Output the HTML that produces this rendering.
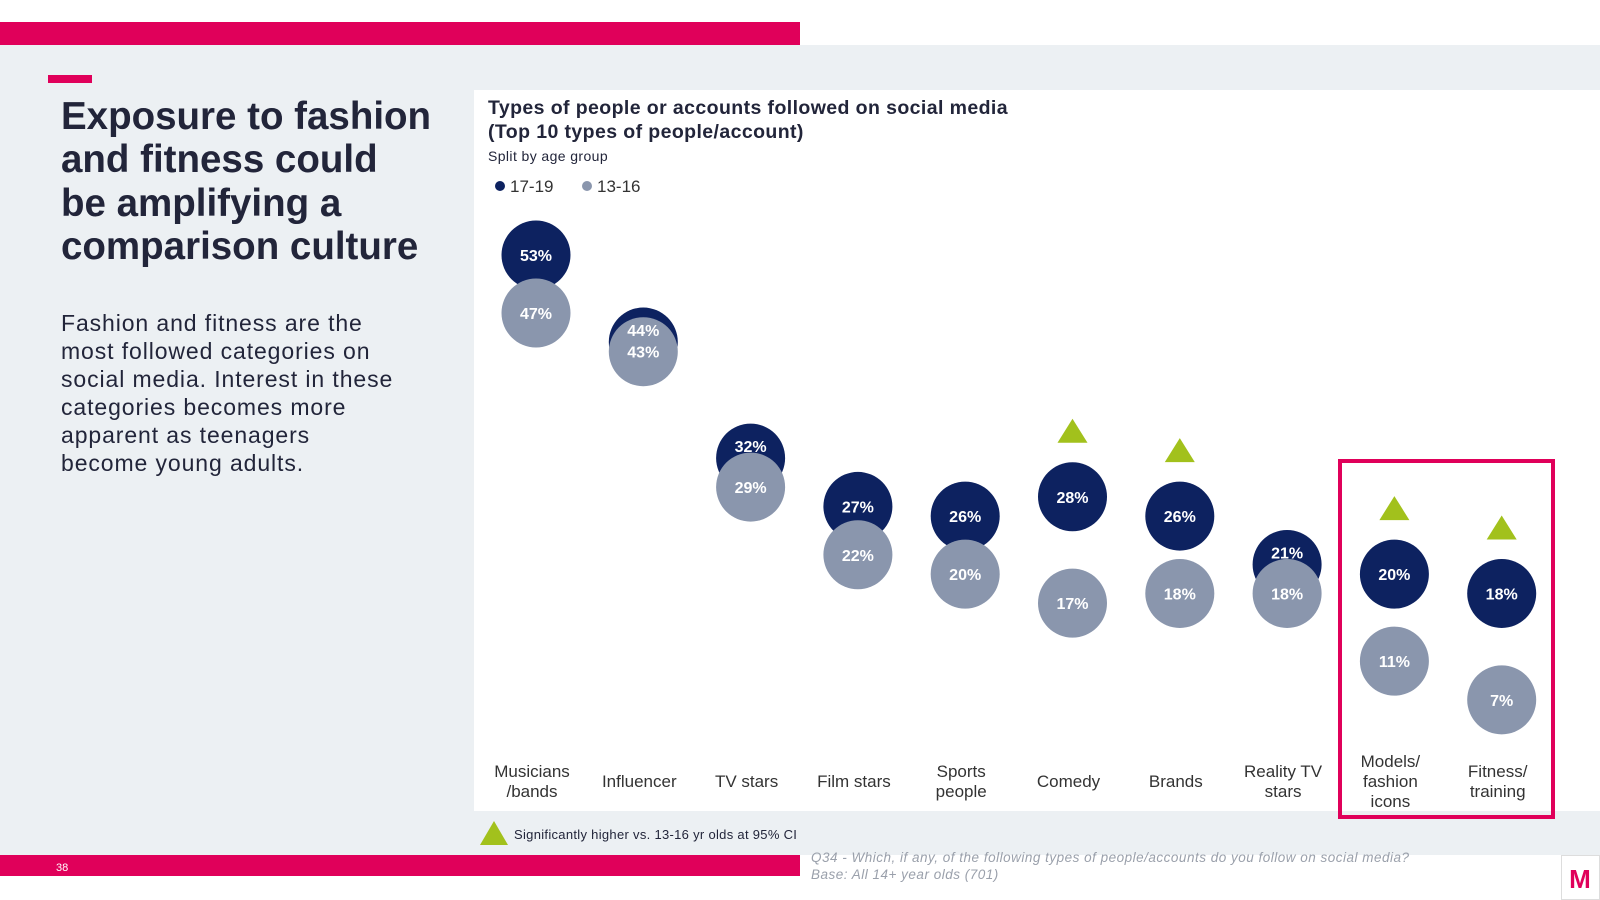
<!DOCTYPE html>
<html><head><meta charset="utf-8"><style>
html,body{margin:0;padding:0;width:1600px;height:900px;overflow:hidden;background:#fff;font-family:"Liberation Sans",sans-serif}
svg{display:block}
</style></head><body>
<svg width="1600" height="900" viewBox="0 0 1600 900" id="root">
<rect x="0" y="45" width="1600" height="810" fill="#ecf0f3"/>
<rect x="0" y="22" width="800" height="23" fill="#e0005a"/>
<rect x="48" y="75" width="44" height="8" fill="#e0005a"/>
<g font-size="38.5" font-weight="bold" fill="#22253a">
<text x="61" y="129">Exposure to fashion</text>
<text x="61" y="172">and fitness could</text>
<text x="61" y="216">be amplifying a</text>
<text x="61" y="259">comparison culture</text>
</g>
<g font-size="23" letter-spacing="0.9" fill="#22253a">
<text x="61" y="331">Fashion and fitness are the</text>
<text x="61" y="359">most followed categories on</text>
<text x="61" y="387">social media.  Interest in these</text>
<text x="61" y="415">categories becomes more</text>
<text x="61" y="443">apparent as teenagers</text>
<text x="61" y="471">become young adults.</text>
</g>
<rect x="474" y="90" width="1126" height="721" fill="#fff"/>
<text x="488" y="114" font-size="19.5" font-weight="bold" letter-spacing="0.4" fill="#22253a">Types of people or accounts followed on social media</text>
<text x="488" y="138" font-size="19.5" font-weight="bold" letter-spacing="0.4" fill="#22253a">(Top 10 types of people/account)</text>
<text x="488" y="161" font-size="14" letter-spacing="0.4" fill="#22253a">Split by age group</text>
<g>
<circle cx="500" cy="186" r="5" fill="#0d2260"/>
<text x="510" y="192" font-size="17" fill="#333">17-19</text>
<circle cx="587" cy="186" r="5" fill="#8a96ad"/>
<text x="597" y="192" font-size="17" fill="#333">13-16</text>
</g>
<g id="chart"></g>
<rect x="1340" y="461" width="213" height="356" fill="none" stroke="#e0005a" stroke-width="4"/>
<polygon points="480,845 494,821 508,845" fill="#a2c11c"/>
<text x="514" y="839" font-size="13" letter-spacing="0.3" fill="#22253a">Significantly higher vs. 13-16 yr olds at 95% CI</text>
<rect x="0" y="855" width="800" height="21" fill="#e0005a"/>
<text x="56" y="871" font-size="11" fill="#fff">38</text>
<text x="811" y="862" font-size="13.5" font-style="italic" letter-spacing="0.5" fill="#9aa0ab">Q34 - Which, if any, of the following types of people/accounts do you follow on social media?</text>
<text x="811" y="879" font-size="13.5" font-style="italic" letter-spacing="0.5" fill="#9aa0ab">Base: All 14+ year olds (701)</text>
<rect x="1561.5" y="855.5" width="38" height="44" fill="#fff" stroke="#ddd"/>
<text x="1580" y="888" font-size="26" font-weight="bold" fill="#e0005a" text-anchor="middle">M</text>
</svg>
<script>
const categories=[["Musicians","/bands"],["Influencer"],["TV stars"],["Film stars"],["Sports","people"],["Comedy"],["Brands"],["Reality TV","stars"],["Models/","fashion","icons"],["Fitness/","training"]];
const olderValues=[53,44,32,27,26,28,26,21,20,18];
const youngerValues=[47,43,29,22,20,17,18,18,11,7];
const significant=[false,false,false,false,false,true,true,false,true,true];
const NS="http://www.w3.org/2000/svg";
const g=document.getElementById('chart');
function xPos(i){return 536+i*107.3;}
function yPos(v){return 255+(53-v)*9.67;}
function mk(tag,attrs){const e=document.createElementNS(NS,tag);for(const k in attrs)e.setAttribute(k,attrs[k]);g.appendChild(e);return e;}
categories.forEach((c,i)=>{
  const x=xPos(i);
  const yo=yPos(olderValues[i]), yy=yPos(youngerValues[i]);
  const c1=mk('circle',{cx:x,cy:yo,r:34.5,fill:'#0d2260'});
  
  
  const c2=mk('circle',{cx:x,cy:yy,r:34.5,fill:'#8a96ad'});
  
  
  const overlap=(yy-yo)<40;
  const ly=overlap?yo-10:yo+2;
  const t1=mk('text',{x:x,y:ly+4,'font-size':16,'font-weight':'bold',fill:'#fff','text-anchor':'middle'});
  t1.textContent=olderValues[i]+'%';
  
  
  const t2=mk('text',{x:x,y:yy+6,'font-size':16,'font-weight':'bold',fill:'#fff','text-anchor':'middle'});
  t2.textContent=youngerValues[i]+'%';
  
  
  if(significant[i]){
    const ty=yo-66;
    const p=mk('polygon',{points:(x-15)+','+(ty+12)+' '+x+','+(ty-12)+' '+(x+15)+','+(ty+12),fill:'#a2c11c'});
    
    
  }
  const n=c.length, y0=787-(n-1)*10;
  c.forEach((line,j)=>{
    const t=mk('text',{x:x-4,y:y0+j*20,'font-size':17,fill:'#333','text-anchor':'middle'});
    t.textContent=line;
    
    
  });
});
</script>
</body></html>
